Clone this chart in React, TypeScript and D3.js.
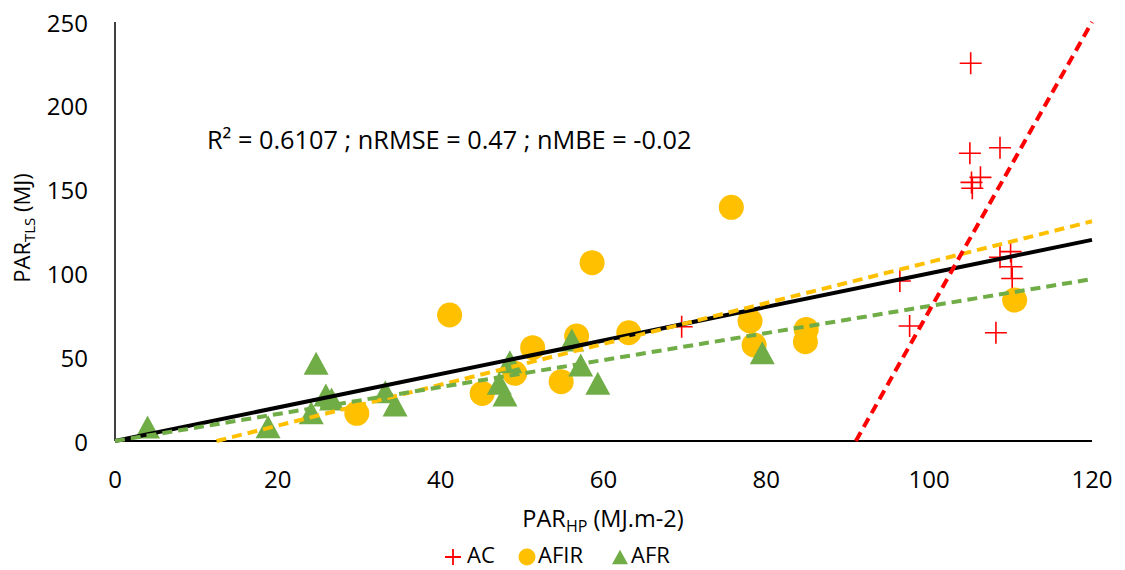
import React from "react";
import * as d3 from "d3";

const xTicks = [0, 20, 40, 60, 80, 100, 120];
const yTicks = [0, 50, 100, 150, 200, 250];

const acX = [105.1, 105.0, 108.7, 106.3, 105.2, 105.3, 96.4, 97.6, 108.2, 108.7, 110.0, 110.1, 110.2, 69.6];
const acY = [225.4, 171.7, 175.0, 157.3, 154.3, 150.8, 95.5, 68.6, 64.6, 109.6, 113.0, 104.0, 97.0, 68.2];

const afirX = [29.7, 41.1, 45.1, 49.1, 51.3, 54.8, 56.7, 58.6, 63.1, 75.7, 78.0, 78.5, 84.9, 84.8, 110.5];
const afirY = [16.5, 75.2, 28.4, 40.4, 55.7, 35.4, 62.6, 106.4, 64.6, 139.4, 71.6, 57.3, 66.6, 59.2, 84.1];

const afrX = [4.0, 18.8, 24.7, 24.1, 25.9, 26.6, 33.2, 34.4, 48.5, 47.2, 47.9, 56.1, 57.2, 59.3, 79.5];
const afrY = [8.4, 8.5, 46.4, 16.9, 27.5, 25.0, 29.4, 21.5, 47.3, 34.4, 27.4, 60.3, 45.3, 34.4, 52.7];

// trendlines: [slope, intercept]
const trendAll = [1.0, 0.0];
const trendAFIR = [1.219, -15.2];
const trendAFR = [0.805, 0.0];
const trendAC = [8.62, -784.4];

const legendLabels = ["AC", "AFIR", "AFR"];
const annotation = "R² = 0.6107 ; nRMSE = 0.47 ; nMBE = -0.02";

const FONT = "'Open Sans', sans-serif";
const RED = "#FF0000";
const YEL = "#FFC000";
const GRN = "#70AD47";

export default function App() {
  const x = d3.scaleLinear().domain([0, 120]).range([115, 1092]);
  const y = d3.scaleLinear().domain([0, 250]).range([441, 22]);

  const trendSeg = (t: number[]) => {
    const [m, b] = t;
    let x0 = 0, x1 = 120;
    if (m * x0 + b < 0) x0 = -b / m;
    if (m * x1 + b > 250) x1 = (250 - b) / m;
    const l = d3.line<number>().x((v) => x(v)).y((v) => y(m * v + b));
    return l([x0, x1]) || "";
  };

  const tri = (cx: number, cy: number, s: number) => {
    const h = s * 0.92;
    return `M${cx},${cy - h / 2}L${cx + s / 2},${cy + h / 2}L${cx - s / 2},${cy + h / 2}Z`;
  };
  const cross = (cx: number, cy: number, s: number) =>
    `M${cx - s / 2},${cy}L${cx + s / 2},${cy}M${cx},${cy - s / 2}L${cx},${cy + s / 2}`;

  return (
    <svg
      width={1125}
      height={570}
      style={{ position: "absolute", left: 0, top: 0, background: "#fff" }}
      fontFamily={FONT}
    >
      <rect x={0} y={0} width={1125} height={570} fill="#fff" />
      {/* axes */}
      <line x1={x(0)} x2={x(0)} y1={y(250)} y2={y(0)} stroke="#000" strokeWidth={1.5} />
      <line x1={x(0)} x2={x(120)} y1={y(0)} y2={y(0)} stroke="#000" strokeWidth={2} />
      {yTicks.map((t) => (
        <text key={"y" + t} x={88} y={y(t)} textAnchor="end" dominantBaseline="central" fontSize={24} fill="#000">
          {t}
        </text>
      ))}
      {xTicks.map((t) => (
        <text key={"x" + t} x={x(t)} y={478} textAnchor="middle" dominantBaseline="central" fontSize={24} fill="#000">
          {t}
        </text>
      ))}
      {/* axis titles */}
      <text x={603} y={527} textAnchor="middle" fontSize={23.5} fill="#000">
        PAR<tspan fontSize={16} dy={5}>HP</tspan>
        <tspan dy={-5}> (MJ.m-2)</tspan>
      </text>
      <text transform="translate(30,228) rotate(-90)" textAnchor="middle" fontSize={22} fill="#000">
        PAR<tspan fontSize={15} dy={5}>TLS</tspan>
        <tspan dy={-5}> (MJ)</tspan>
      </text>
      {/* annotation */}
      <text x={207} y={149} fontSize={25.3} fill="#000">{annotation}</text>

      {/* series */}
      {acX.map((v, i) => (
        <path key={"ac" + i} d={cross(x(v), y(acY[i]), 22)} stroke={RED} strokeWidth={1.6} fill="none" />
      ))}
      {afirX.map((v, i) => (
        <circle key={"af" + i} cx={x(v)} cy={y(afirY[i])} r={12.5} fill={YEL} />
      ))}
      {afrX.map((v, i) => (
        <path key={"ar" + i} d={tri(x(v), y(afrY[i]), 25)} fill={GRN} />
      ))}

      {/* trendlines */}
      <path d={trendSeg(trendAll)} stroke="#000" strokeWidth={4} fill="none" />
      <path d={trendSeg(trendAFIR)} stroke={YEL} strokeWidth={4} strokeDasharray="10,6" fill="none" />
      <path d={trendSeg(trendAFR)} stroke={GRN} strokeWidth={4} strokeDasharray="10,6" fill="none" />
      <path d={trendSeg(trendAC)} stroke={RED} strokeWidth={4} strokeDasharray="10,6" fill="none" />

      {/* legend */}
      <path d={cross(453, 557, 16)} stroke={RED} strokeWidth={1.8} fill="none" />
      <text x={467} y={554} dominantBaseline="central" fontSize={22} fill="#000">{legendLabels[0]}</text>
      <circle cx={527} cy={557} r={8.5} fill={YEL} />
      <text x={538} y={554} dominantBaseline="central" fontSize={22} fill="#000">{legendLabels[1]}</text>
      <path d={tri(620, 557, 16)} fill={GRN} />
      <text x={631} y={554} dominantBaseline="central" fontSize={22} fill="#000">{legendLabels[2]}</text>
    </svg>
  );
}
